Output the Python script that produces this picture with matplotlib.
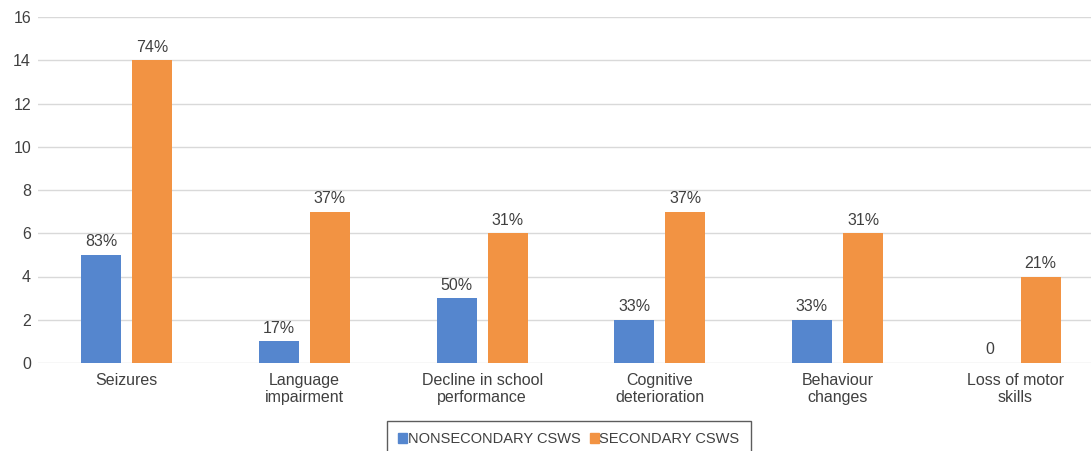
import matplotlib
matplotlib.use("Agg")
import matplotlib.pyplot as plt
import numpy as np
from matplotlib.patches import Patch

categories = ["Seizures", "Language\nimpairment", "Decline in school\nperformance",
              "Cognitive\ndeterioration", "Behaviour\nchanges", "Loss of motor\nskills"]
nonsecondary = [5, 1, 3, 2, 2, 0]
secondary = [14, 7, 6, 7, 6, 4]
nonsec_labels = ["83%", "17%", "50%", "33%", "33%", "0"]
sec_labels = ["74%", "37%", "31%", "37%", "31%", "21%"]
yticks = [0, 2, 4, 6, 8, 10, 12, 14, 16]

plt.rcParams['font.family'] = ['Liberation Sans', 'DejaVu Sans']
txt = '#404040'
blue = '#5586CE'
orange = '#F29343'
fs = 11.5

W, H = 1091, 451
fig = plt.figure(figsize=(W/100, H/100), dpi=100)
left, right, bottom, top = 38, 1091, 363, 17
ax = fig.add_axes([left/W, 1 - bottom/H, (right-left)/W, (bottom-top)/H])

x = np.arange(len(categories))
w = 0.225
off = 0.1436
b1 = ax.bar(x - off, nonsecondary, w, color=blue, zorder=3)
b2 = ax.bar(x + off, secondary, w, color=orange, zorder=3)
for rect, lab in zip(b1, nonsec_labels):
    ax.annotate(lab, (rect.get_x() + rect.get_width()/2, rect.get_height()),
                xytext=(0, 4), textcoords='offset points', ha='center', va='bottom',
                fontsize=fs, color=txt)
for rect, lab in zip(b2, sec_labels):
    ax.annotate(lab, (rect.get_x() + rect.get_width()/2, rect.get_height()),
                xytext=(0, 4), textcoords='offset points', ha='center', va='bottom',
                fontsize=fs, color=txt)

ax.set_ylim(0, 16)
ax.set_yticks(yticks)
ax.set_xlim(-0.5, 5.5 - 13/177.6)
ax.set_xticks(x)
ax.set_xticklabels(categories, fontsize=fs, color=txt, linespacing=1.15)
ax.tick_params(axis='y', labelsize=fs, labelcolor=txt, length=0, pad=5)
ax.tick_params(axis='x', length=0, pad=7)
ax.grid(axis='y', color='#D9D9D9', linewidth=1, zorder=0)
for s in ax.spines.values():
    s.set_visible(False)

handles = [Patch(color=blue, label='NONSECONDARY CSWS'),
           Patch(color=orange, label='SECONDARY CSWS')]
leg = fig.legend(handles=handles, loc='lower center', bbox_to_anchor=(569/W, -0.03),
                 ncol=2, frameon=True, fancybox=False, fontsize=10.5,
                 handlelength=0.62, handleheight=0.62, handletextpad=0.05,
                 columnspacing=0.6, borderpad=0.75, labelcolor=txt)
leg.get_frame().set_edgecolor('#333333')
leg.get_frame().set_linewidth(1)

fig.savefig('out.png', dpi=100)
